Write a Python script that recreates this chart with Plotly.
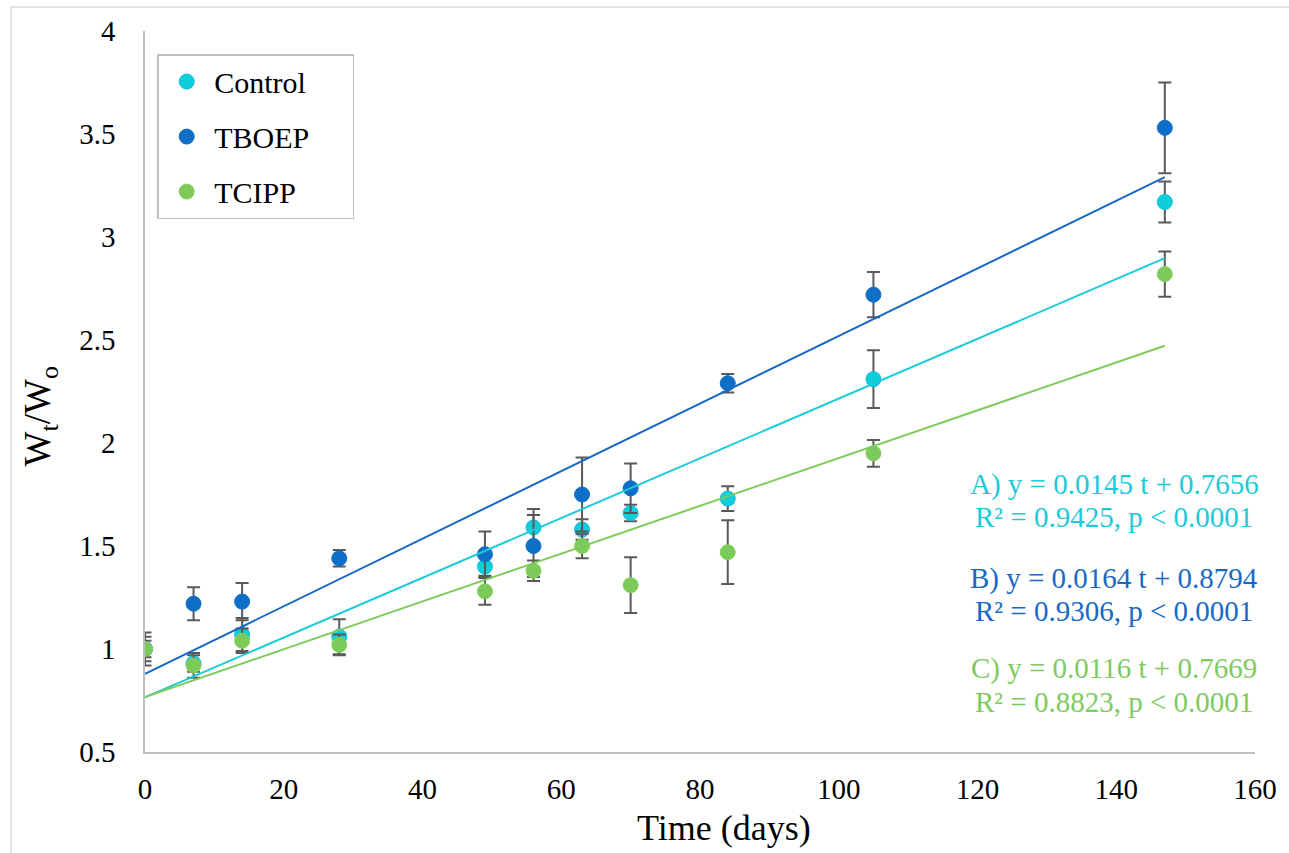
import plotly.graph_objects as go

# Sampling days
days = [0, 7, 14, 28, 49, 56, 63, 70, 84, 105, 147]

# Relative weight Wt/Wo (mean) and error per treatment
control = [1.00, 0.93, 1.07, 1.06, 1.40, 1.59, 1.58, 1.66, 1.73, 2.31, 3.17]
control_err = [0.06, 0.04, 0.08, 0.085, 0.045, 0.09, 0.05, 0.04, 0.06, 0.14, 0.10]

tboep = [1.00, 1.22, 1.23, 1.44, 1.46, 1.50, 1.75, 1.78, 2.29, 2.72, 3.53]
tboep_err = [0.08, 0.08, 0.09, 0.04, 0.11, 0.15, 0.18, 0.12, 0.045, 0.11, 0.22]

tcipp = [1.00, 0.92, 1.04, 1.02, 1.28, 1.38, 1.50, 1.31, 1.47, 1.95, 2.82]
tcipp_err = [0.04, 0.06, 0.06, 0.05, 0.065, 0.05, 0.06, 0.135, 0.155, 0.065, 0.11]

# Linear fits: slope, intercept, R²
fit_labels = ["A)", "B)", "C)"]
fit_slopes = [0.0145, 0.0164, 0.0116]
fit_intercepts = [0.7656, 0.8794, 0.7669]
fit_r2 = ["0.9425", "0.9306", "0.8823"]
fit_range = [0, 147]

names = ["Control", "TBOEP", "TCIPP"]
means = [control, tboep, tcipp]
errors = [control_err, tboep_err, tcipp_err]
fill_colors = ["#0DCFDA", "#0F6FC6", "#7CCB5A"]
edge_colors = ["#12B9E6", "#0F6FC6", "#86CF5C"]
line_colors = ["#1ACBD8", "#1769C6", "#7ECB5A"]
text_colors = ["#1CCAD8", "#1769C4", "#7DCB5E"]

FONT = "Liberation Serif"
TICK_FONT = dict(family=FONT, size=29, color="black")
NBSP = "\u00a0"

fig = go.Figure()

for name, y, err, fc, ec in zip(names, means, errors, fill_colors, edge_colors):
    fig.add_trace(go.Scatter(
        x=days, y=y, mode="markers", name=NBSP + name + NBSP * 5,
        legendgroup=name,
        marker=dict(size=15, color=fc, line=dict(color=ec, width=1)),
        error_y=dict(type="data", array=err, visible=True,
                     color="#595959", thickness=2, width=6.5),
    ))

for name, m, b, lc in zip(names, fit_slopes, fit_intercepts, line_colors):
    fig.add_trace(go.Scatter(
        x=fit_range, y=[b + m * t for t in fit_range], mode="lines",
        line=dict(color=lc, width=2), showlegend=False, legendgroup=name,
        hoverinfo="skip",
    ))

# Regression equations
eq_y = [(0.3717, 0.3259), (0.2413, 0.1956), (0.1165, 0.0693)]
for lab, m, b, r2, col, (y1, y2) in zip(fit_labels, fit_slopes, fit_intercepts,
                                        fit_r2, text_colors, eq_y):
    fig.add_annotation(xref="paper", yref="paper", x=0.873, y=y1,
                       text=f"{lab} y = {m:.4f} t + {b:.4f}", showarrow=False,
                       font=dict(family=FONT, size=29, color=col),
                       xanchor="center", yanchor="middle")
    fig.add_annotation(xref="paper", yref="paper", x=0.873, y=y2,
                       text=f"R² = {r2}, p < 0.0001", showarrow=False,
                       font=dict(family=FONT, size=29, color=col),
                       xanchor="center", yanchor="middle")

# Axis titles
fig.add_annotation(xref="paper", yref="paper", x=0.522, y=-0.105,
                   text="Time (days)", showarrow=False,
                   font=dict(family=FONT, size=36, color="black"),
                   xanchor="center", yanchor="middle")
fig.add_annotation(xref="paper", yref="paper", x=-0.094, y=0.465,
                   text="W<sub>t</sub>/W<sub>o</sub>", showarrow=False, textangle=-90,
                   font=dict(family=FONT, size=37, color="black"),
                   xanchor="center", yanchor="middle")

# Chart area frame
fig.add_shape(type="rect", xref="paper", yref="paper",
              x0=-0.1207, y0=-0.2, x1=1.05, y1=1.0333,
              line=dict(color="#D9D9D9", width=1.5), fillcolor="rgba(0,0,0,0)",
              layer="below")

fig.update_layout(
    width=1289, height=853,
    margin=dict(l=145, r=34, t=31, b=101),
    paper_bgcolor="white", plot_bgcolor="white",
    font=dict(family=FONT, size=29, color="black"),
    showlegend=True,
    legend=dict(
        x=0.011, y=0.968, xanchor="left", yanchor="top",
        bgcolor="white", bordercolor="#BFBFBF", borderwidth=1.5,
        font=dict(family=FONT, size=30, color="black"),
        traceorder="grouped", tracegroupgap=13,
        indentation=8,
    ),
    xaxis=dict(range=[0, 160], dtick=20, tick0=0, showline=True,
               linecolor="#BFBFBF", linewidth=1.5, showgrid=False,
               zeroline=False, ticks="", ticklabelstandoff=10,
               tickfont=TICK_FONT),
    yaxis=dict(range=[0.5, 4], dtick=0.5, tick0=0.5, showline=True,
               linecolor="#BFBFBF", linewidth=1.5, showgrid=False,
               zeroline=False, ticks="", ticklabelstandoff=22,
               tickfont=TICK_FONT),
)

fig.write_html("out.html")
